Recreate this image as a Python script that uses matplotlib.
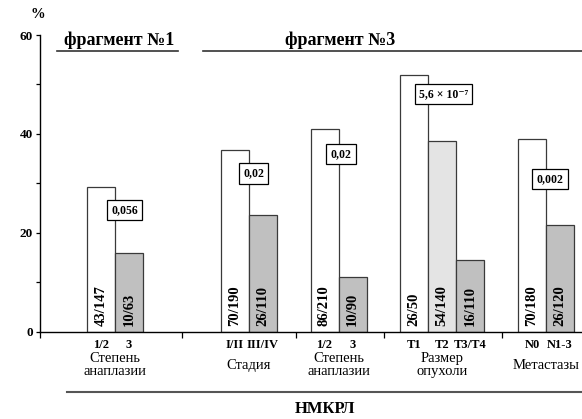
import matplotlib
matplotlib.use("Agg")
import matplotlib.pyplot as plt
from matplotlib.lines import Line2D

plt.rcParams['font.family'] = ['Liberation Serif', 'DejaVu Serif']

# группы: подписи, доли (больные с фрагментом / всего) и p-значения
group_names = ['Степень\nанаплазии', 'Стадия', 'Степень\nанаплазии', 'Размер\nопухоли', 'Метастазы']
bar_labels = [['1/2', '3'], ['I/II', 'III/IV'], ['1/2', '3'], ['T1', 'T2', 'T3/T4'], ['N0', 'N1-3']]
counts = [[(43, 147), (10, 63)],
          [(70, 190), (26, 110)],
          [(86, 210), (10, 90)],
          [(26, 50), (54, 140), (16, 110)],
          [(70, 180), (26, 120)]]
p_values = ['0,056', '0,02', '0,02', '5,6 × 10⁻⁷', '0,002']
p_heights = [24.6, 32.0, 35.9, 48.0, 30.9]

# раскладка по горизонтали (в пикселях оси)
W, H = 582, 419
group_centers = [115, 248.5, 338.5, 442, 546]
p_x = [124.5, 253.5, 341, 443.5, 550]
bar_w = 28
sep_ticks = [40, 182, 296, 384, 502]
colors2 = ['white', '#c0c0c0']
colors3 = ['white', '#e4e4e4', '#c0c0c0']

fig = plt.figure(figsize=(W / 100, H / 100), dpi=100)
y0, y60 = 331.7, 35
ax = fig.add_axes([40 / W, (H - y0) / H, 1 - 40 / W, (y0 - y60) / H])

for gi, (cx, pairs, labs) in enumerate(zip(group_centers, counts, bar_labels)):
    n = len(pairs)
    cols = colors3 if n == 3 else colors2
    for k, ((a, b), lab) in enumerate(zip(pairs, labs)):
        x = cx + (k - (n - 1) / 2) * bar_w
        val = 100.0 * a / b
        ax.bar(x, val, width=bar_w, color=cols[k], edgecolor='#3a3a3a', linewidth=0.9, zorder=2)
        ax.text(x, 1.2, f'{a}/{b}', rotation=90, ha='center', va='bottom',
                fontsize=10.5, fontweight='bold', zorder=3)
        ax.text(x, -0.046, lab, transform=ax.get_xaxis_transform(), ha='center', va='center',
                fontsize=9, fontweight='bold', clip_on=False)
    ax.text(cx, -0.113, group_names[gi], transform=ax.get_xaxis_transform(), ha='center',
            va='center', fontsize=10.5, linespacing=1.05, clip_on=False)
    ax.text(p_x[gi], p_heights[gi], p_values[gi], ha='center', va='center', fontsize=8.5,
            fontweight='bold', zorder=4,
            bbox=dict(boxstyle='square,pad=0.35', facecolor='white', edgecolor='black', linewidth=0.9))

ax.set_xlim(40, W)
ax.set_ylim(0, 60)
ax.set_yticks([0, 20, 40, 60])
ax.set_yticks([10, 30, 50], minor=True)
ax.set_xticks(sep_ticks)
ax.set_xticklabels([])
ax.tick_params(axis='y', which='both', direction='out', length=3, width=0.9, labelsize=9.5, pad=2)
ax.tick_params(axis='x', direction='out', length=4, width=0.9)
for t in ax.get_yticklabels():
    t.set_fontweight('bold')
for side in ['top', 'right']:
    ax.spines[side].set_visible(False)
for side in ['left', 'bottom']:
    ax.spines[side].set_linewidth(1.0)

# заголовки фрагментов, линии и общая подпись
def fx(px):
    return px / W

def fy(py):
    return 1 - py / H

fig.text(fx(38), fy(15), '%', ha='center', va='center', fontsize=10.5, fontweight='bold')
fig.text(fx(119), fy(40), 'фрагмент №1', ha='center', va='center', fontsize=13, fontweight='bold')
fig.text(fx(340), fy(40), 'фрагмент №3', ha='center', va='center', fontsize=13, fontweight='bold')
fig.add_artist(Line2D([fx(57), fx(178)], [fy(51), fy(51)], color='#333333', lw=1.2))
fig.add_artist(Line2D([fx(203), fx(582)], [fy(51), fy(51)], color='#333333', lw=1.2))
fig.add_artist(Line2D([fx(67), fx(582)], [fy(392), fy(392)], color='#555555', lw=1.5))
fig.text(fx(325), fy(409), 'НМКРЛ', ha='center', va='center', fontsize=12, fontweight='bold')

fig.savefig('out.png', dpi=100)
